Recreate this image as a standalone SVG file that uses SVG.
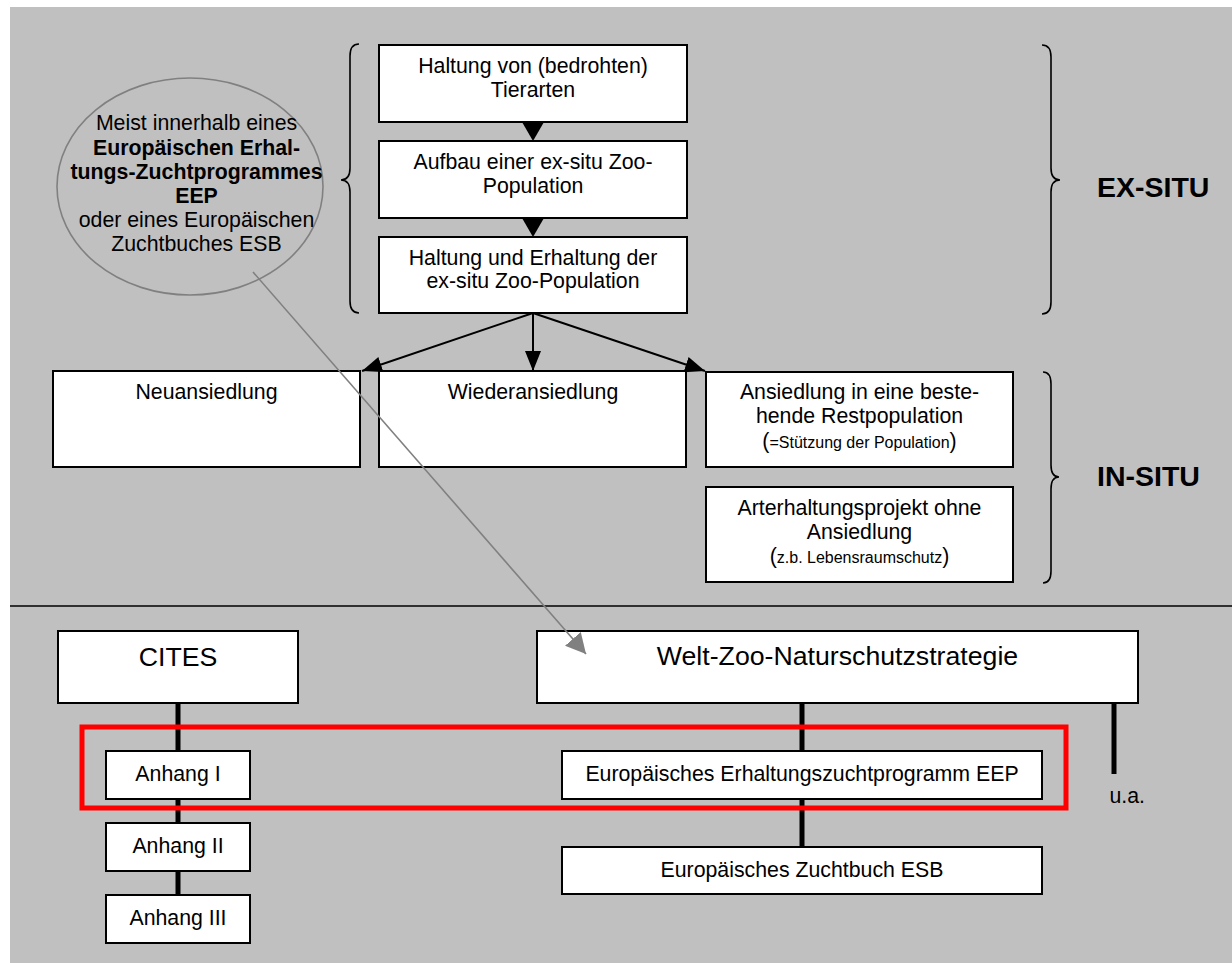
<svg xmlns="http://www.w3.org/2000/svg" width="1232" height="963" viewBox="0 0 1232 963">
<style>
text{font-family:"Liberation Sans",Arial,Helvetica,sans-serif;fill:#000}
.t{font-size:21.3px;text-anchor:middle}
.s{font-size:16px}
.b{font-weight:bold}
.box{fill:#fff;stroke:#000;stroke-width:2}
.ln{stroke:#000;stroke-width:2;fill:none}
.thick{stroke:#000;stroke-width:5;fill:none}
.brace{stroke:#000;stroke-width:1.6;fill:none}
.big{font-size:26.7px;text-anchor:middle}
.lbl{font-size:28.5px;font-weight:bold}
</style>
<defs>
<marker id="ah" markerUnits="userSpaceOnUse" markerWidth="20" markerHeight="16" refX="20" refY="8" orient="auto">
<path d="M0,0 L20,8 L0,16 z" fill="#000"/>
</marker>
<marker id="gh" markerUnits="userSpaceOnUse" markerWidth="21" markerHeight="21" refX="20" refY="10.5" orient="auto">
<path d="M0,0 L20,10.5 L0,21 z" fill="#808080"/>
</marker>
</defs>
<rect x="10" y="7" width="1222" height="956" fill="#C0C0C0"/>
<line x1="10" y1="606" x2="1232" y2="606" stroke="#000" stroke-width="1.6"/>

<g id="braces">
<path class="brace" d="M359,44 Q350,44 350,56 L350,168 Q350,180 341,180 Q350,180 350,192 L350,301 Q350,313 359,313"/>
<path class="brace" d="M1042,45 Q1051,45 1051,57 L1051,168 Q1051,180 1060,180 Q1051,180 1051,192 L1051,302 Q1051,314 1042,314"/>
<path class="brace" d="M1043,372 Q1051,372 1051,384 L1051,465 Q1051,477 1059,477 Q1051,477 1051,489 L1051,571 Q1051,583 1043,583"/>
</g>
<g id="label-exsitu"><text class="lbl" x="1097" y="197">EX-SITU</text></g>
<g id="label-insitu"><text class="lbl" x="1097" y="486">IN-SITU</text></g>

<g id="connectors">
<path d="M522,122 L544,122 L533,141 z" fill="#000"/>
<path d="M522,218 L544,218 L533,237 z" fill="#000"/>
<line class="ln" x1="533" y1="313" x2="362" y2="371" marker-end="url(#ah)"/>
<line class="ln" x1="533" y1="313" x2="533" y2="371" marker-end="url(#ah)"/>
<line class="ln" x1="533" y1="313" x2="705" y2="371" marker-end="url(#ah)"/>
<line class="thick" x1="178" y1="703" x2="178" y2="751"/>
<line class="thick" x1="178" y1="799" x2="178" y2="823"/>
<line class="thick" x1="178" y1="871" x2="178" y2="895"/>
<line class="thick" x1="802" y1="703" x2="802" y2="751"/>
<line class="thick" x1="802" y1="799" x2="802" y2="847"/>
<line class="thick" x1="1114" y1="703" x2="1114" y2="774"/>
</g>

<g id="ellipse-note">
<ellipse cx="190" cy="186.5" rx="133" ry="108.5" fill="none" stroke="#808080" stroke-width="1.6"/>
<text class="t" x="196.5" y="130">Meist innerhalb eines</text>
<text class="t b" x="196.5" y="155">Europäischen Erhal-</text>
<text class="t b" x="196.5" y="178.5">tungs-Zuchtprogrammes</text>
<text class="t b" x="196.5" y="203">EEP</text>
<text class="t" x="196.5" y="227">oder eines Europäischen</text>
<text class="t" x="196.5" y="251">Zuchtbuches ESB</text>
</g>

<g id="haltung">
<rect class="box" x="379" y="45" width="308" height="77"/>
<text class="t" x="533" y="73">Haltung von (bedrohten)</text>
<text class="t" x="533" y="97">Tierarten</text>
</g>
<g id="aufbau">
<rect class="box" x="379" y="141" width="308" height="77"/>
<text class="t" x="533" y="169">Aufbau einer ex-situ Zoo-</text>
<text class="t" x="533" y="193">Population</text>
</g>
<g id="erhaltung">
<rect class="box" x="379" y="237" width="308" height="76"/>
<text class="t" x="533" y="265">Haltung und Erhaltung der</text>
<text class="t" x="533" y="288">ex-situ Zoo-Population</text>
</g>

<g id="neuansiedlung">
<rect class="box" x="53" y="371" width="307" height="96"/>
<text class="t" x="206.5" y="399">Neuansiedlung</text>
</g>
<g id="wiederansiedlung">
<rect class="box" x="379" y="371" width="307" height="96"/>
<text class="t" x="533" y="399">Wiederansiedlung</text>
</g>
<g id="ansiedlung">
<rect class="box" x="706" y="372" width="307" height="95"/>
<text class="t" x="859.5" y="399">Ansiedlung in eine beste-</text>
<text class="t" x="859.5" y="423">hende Restpopulation</text>
<text class="t" x="859.5" y="448">(<tspan class="s">=Stützung der Population</tspan>)</text>
</g>
<g id="arterhaltung">
<rect class="box" x="706" y="487" width="307" height="95"/>
<text class="t" x="859.5" y="515">Arterhaltungsprojekt ohne</text>
<text class="t" x="859.5" y="539">Ansiedlung</text>
<text class="t" x="859.5" y="563">(<tspan class="s">z.b. Lebensraumschutz</tspan>)</text>
</g>

<g id="cites">
<rect class="box" x="58" y="631" width="240" height="72"/>
<text class="big" x="178" y="666">CITES</text>
</g>
<g id="welt">
<rect class="box" x="537" y="631" width="601" height="72"/>
<text class="big" x="837.5" y="665">Welt-Zoo-Naturschutzstrategie</text>
</g>
<g id="anhang1">
<rect class="box" x="106" y="751" width="144" height="48"/>
<text class="t" x="178" y="781">Anhang I</text>
</g>
<g id="anhang2">
<rect class="box" x="106" y="823" width="144" height="48"/>
<text class="t" x="178" y="853">Anhang II</text>
</g>
<g id="anhang3">
<rect class="box" x="106" y="895" width="144" height="48"/>
<text class="t" x="178" y="925">Anhang III</text>
</g>
<g id="eep">
<rect class="box" x="562" y="751" width="480" height="48"/>
<text class="t" x="802" y="781">Europäisches Erhaltungszuchtprogramm EEP</text>
</g>
<g id="esb">
<rect class="box" x="562" y="847" width="480" height="47"/>
<text class="t" x="802" y="877">Europäisches Zuchtbuch ESB</text>
</g>
<g id="ua">
<text x="1109.5" y="803" style="font-size:21.3px">u.a.</text>
</g>

<g id="highlight">
<rect x="82" y="727" width="984" height="81" fill="none" stroke="#FF0000" stroke-width="5"/>
</g>

<g id="note-arrow">
<line x1="253" y1="272" x2="586" y2="654" stroke="#808080" stroke-width="1.6" marker-end="url(#gh)"/>
</g>
</svg>
